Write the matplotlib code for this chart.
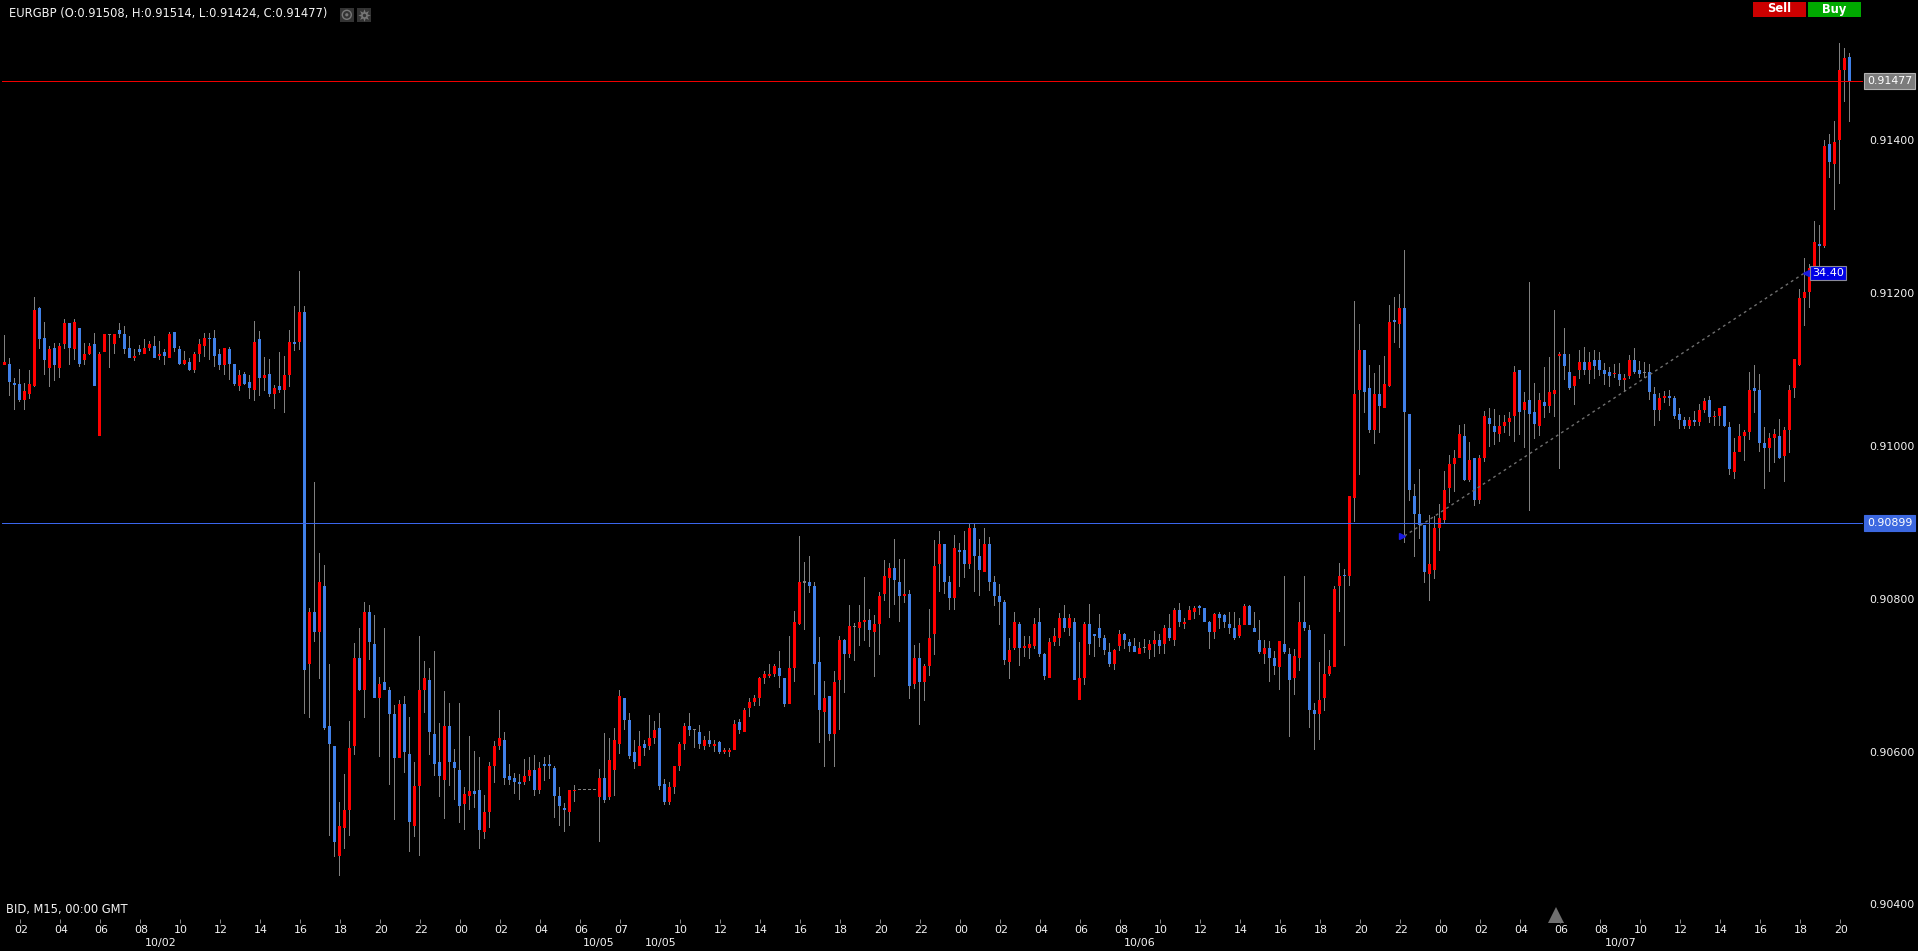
import matplotlib
matplotlib.use("Agg")
import numpy as np
import matplotlib.pyplot as plt
from matplotlib.patches import Rectangle, Circle
from matplotlib.transforms import ScaledTranslation

# M15 candles, prices in 1e-5 units -----------------------------------
body_tops = [
    91110,91107,91081,91081,91071,91081,91178,91180,91141,91126,
    91128,91131,91160,91160,91162,91154,91120,91131,91133,91120,
    91146,91146,91146,91152,91146,91128,91118,91126,91128,91133,
    91131,91120,91123,91146,91149,91126,91112,91110,91120,91133,
    91141,91141,91141,91120,91128,91126,91107,91092,91094,91084,
    91136,91139,91092,91094,91076,91078,91092,91136,91136,91175,
    91175,90783,90783,90822,90817,90633,90607,90503,90524,90605,
    90722,90722,90783,90783,90741,90689,90691,90681,90649,90662,
    90662,90597,90555,90681,90696,90694,90623,90586,90633,90633,
    90586,90576,90544,90548,90548,90550,90521,90581,90607,90618,
    90615,90568,90566,90560,90568,90576,90576,90579,90584,90584,
    90579,90542,90526,90550,90550,90550,90550,90550,90550,90566,
    90566,90589,90615,90673,90670,90641,90600,90607,90610,90618,
    90628,90631,90558,90553,90581,90610,90634,90634,90628,90626,
    90615,90615,90610,90613,90601,90601,90636,90639,90655,90665,
    90670,90696,90702,90702,90712,90709,90696,90709,90770,90822,
    90822,90822,90817,90717,90670,90673,90691,90746,90746,90764,
    90763,90770,90772,90772,90767,90804,90830,90840,90840,90822,
    90805,90806,90722,90722,90712,90749,90843,90872,90872,90822,
    90866,90864,90864,90893,90893,90856,90872,90872,90822,90804,
    90796,90733,90770,90767,90738,90741,90767,90770,90728,90743,
    90751,90775,90775,90775,90770,90696,90767,90767,90754,90762,
    90749,90730,90733,90754,90754,90743,90738,90736,90736,90741,
    90746,90746,90762,90762,90785,90785,90770,90785,90788,90791,
    90788,90770,90780,90780,90778,90767,90762,90765,90791,90791,
    90762,90746,90736,90736,90723,90744,90741,90728,90725,90770,
    90770,90759,90655,90668,90702,90712,90812,90830,90830,90934,
    91068,91125,91125,91075,91068,91068,91081,91162,91164,91180,
    91180,91041,90934,90911,90896,90845,90892,90905,90942,90976,
    90984,91015,91013,90981,90984,90984,91039,91036,91026,91026,
    91031,91036,91096,91099,91057,91060,91044,91060,91057,91070,
    91073,91120,91120,91096,91091,91109,91109,91109,91112,91112,
    91099,91096,91095,91094,91088,91112,91112,91099,91096,91096,
    91068,91063,91065,91065,91063,91042,91034,91034,91034,91047,
    91058,91060,91039,91050,91052,91024,90992,91013,91018,91073,
    91076,91073,91003,91010,91016,91013,91021,91073,91113,91193,
    91201,91232,91267,91264,91392,91395,91397,91491,91507,91508,
]
body_bottoms = [
    91105,91084,91080,91060,91060,91068,91078,91139,91112,91102,
    91105,91102,91133,91128,91126,91107,91112,91120,91078,91013,
    91123,91145,91133,91146,91126,91115,91115,91123,91120,91128,
    91115,91118,91118,91115,91128,91107,91107,91099,91099,91120,
    91131,91139,91118,91105,91105,91107,91081,91078,91081,91076,
    91073,91089,91089,91068,91068,91073,91073,91092,91133,91136,
    90707,90715,90756,90756,90631,90610,90482,90464,90500,90524,
    90607,90681,90681,90743,90670,90670,90681,90649,90592,90592,
    90600,90508,90503,90555,90681,90626,90584,90568,90563,90586,
    90579,90529,90531,90542,90544,90498,90495,90521,90581,90607,
    90566,90563,90560,90558,90560,90568,90550,90550,90581,90581,
    90542,90529,90524,90521,90548,90550,90550,90550,90550,90540,
    90537,90540,90576,90610,90641,90594,90587,90581,90605,90607,
    90618,90555,90534,90534,90553,90581,90610,90628,90628,90610,
    90607,90610,90607,90600,90600,90600,90602,90628,90626,90657,
    90665,90670,90696,90699,90702,90699,90662,90662,90709,90767,
    90821,90817,90715,90655,90652,90623,90623,90694,90728,90728,
    90763,90762,90770,90759,90757,90767,90806,90827,90825,90804,
    90804,90686,90689,90691,90691,90712,90754,90845,90822,90801,
    90801,90861,90845,90845,90856,90838,90835,90822,90804,90796,
    90720,90717,90736,90736,90736,90736,90738,90728,90699,90696,
    90743,90749,90762,90762,90694,90668,90696,90741,90751,90749,
    90733,90715,90715,90738,90746,90738,90730,90728,90735,90733,
    90741,90738,90741,90749,90746,90770,90767,90772,90783,90788,
    90770,90757,90757,90775,90770,90762,90749,90751,90765,90765,
    90757,90730,90728,90723,90712,90710,90730,90694,90696,90723,
    90762,90655,90649,90649,90670,90702,90710,90816,90829,90829,
    90932,91073,91070,91020,91020,91052,91049,91078,91162,91159,
    91044,90942,90911,90896,90835,90832,90837,90892,90903,90945,
    90976,90984,90955,90955,90929,90929,90984,91028,91018,91015,
    91026,91031,91039,91044,91047,91041,91028,91026,91052,91052,
    91068,91117,91104,91075,91078,91099,91099,91099,91104,91099,
    91094,91091,91094,91086,91086,91091,91096,91094,91095,91070,
    91047,91047,91063,91063,91039,91034,91026,91026,91031,91031,
    91047,91037,91037,91039,91026,90969,90966,90992,91013,91018,
    91071,91003,90997,90997,91010,90984,90987,91021,91076,91105,
    91193,91201,91232,91261,91261,91371,91369,91400,91491,91477,
]
highs = [
    91145,91115,91088,91101,91082,91099,91194,91182,91162,91131,
    91135,91135,91166,91161,91166,91154,91135,91135,91148,91123,
    91146,91146,91146,91160,91156,91144,91126,91132,91140,91137,
    91143,91137,91126,91149,91149,91131,91124,91115,91122,91139,
    91148,91148,91152,91127,91128,91129,91107,91099,91097,91092,
    91163,91150,91116,91114,91080,91122,91118,91152,91183,91229,
    91183,90788,90952,90860,90844,90715,90607,90534,90571,90640,
    90742,90762,90795,90792,90778,90697,90762,90685,90661,90667,
    90673,90645,90586,90751,90719,90709,90731,90637,90679,90664,
    90603,90664,90553,90620,90601,90593,90543,90586,90614,90655,
    90625,90584,90572,90570,90590,90593,90596,90586,90593,90595,
    90581,90553,90533,90550,90556,90550,90550,90550,90550,90577,
    90624,90618,90631,90681,90670,90650,90615,90627,90615,90648,
    90640,90650,90564,90560,90581,90612,90638,90651,90630,90635,
    90621,90627,90615,90614,90605,90605,90641,90643,90657,90670,
    90674,90698,90706,90715,90715,90732,90696,90751,90784,90882,
    90848,90856,90822,90750,90692,90673,90706,90751,90747,90792,
    90768,90792,90828,90787,90779,90809,90851,90847,90878,90852,
    90852,90811,90739,90742,90715,90787,90877,90889,90872,90830,
    90883,90873,90889,90899,90899,90878,90893,90881,90830,90819,
    90798,90749,90783,90770,90751,90751,90775,90788,90729,90749,
    90762,90781,90792,90780,90775,90743,90770,90793,90754,90780,
    90753,90742,90734,90759,90755,90747,90749,90743,90747,90746,
    90758,90754,90766,90780,90788,90794,90775,90791,90791,90792,
    90788,90771,90781,90783,90780,90782,90783,90775,90793,90792,
    90782,90772,90746,90745,90732,90745,90829,90736,90734,90796,
    90830,90766,90663,90717,90754,90733,90816,90847,90839,90934,
    91189,91159,91125,91105,91095,91105,91117,91184,91194,91198,
    91256,91041,90950,90969,90896,90909,90908,90924,90967,90988,
    90994,91027,91028,91005,90984,90988,91045,91049,91048,91040,
    91040,91044,91104,91099,91070,91214,91082,91069,91103,91116,
    91177,91122,91154,91120,91091,91125,91129,91122,91125,91122,
    91108,91103,91107,91108,91094,91119,91128,91111,91109,91107,
    91077,91069,91072,91073,91065,91050,91037,91037,91045,91054,
    91062,91065,91045,91050,91052,91031,91010,91029,91021,91096,
    91105,91094,91024,91017,91022,91035,91024,91080,91113,91205,
    91246,91238,91294,91289,91400,91408,91425,91527,91520,91514,
]
lows = [
    91105,91065,91047,91057,91047,91061,91077,91127,91093,91077,
    91085,91088,91127,91105,91112,91103,91105,91119,91078,91013,
    91123,91102,91120,91141,91120,91115,91111,91119,91120,91124,
    91115,91112,91105,91115,91122,91106,91105,91098,91095,91109,
    91116,91112,91103,91099,91093,91086,91078,91072,91080,91061,
    91059,91065,91072,91064,91048,91069,91043,91077,91124,91125,
    90649,90644,90743,90695,90628,90489,90462,90437,90473,90489,
    90596,90679,90644,90720,90670,90593,90681,90556,90510,90592,
    90572,90468,90488,90464,90651,90596,90568,90541,90512,90555,
    90536,90507,90498,90523,90526,90473,90486,90500,90559,90602,
    90556,90556,90544,90537,90556,90561,90542,90544,90561,90564,
    90513,90503,90495,90503,90534,90550,90550,90550,90550,90482,
    90533,90537,90542,90597,90628,90590,90577,90581,90594,90602,
    90610,90550,90530,90530,90545,90574,90602,90621,90605,90604,
    90602,90606,90600,90597,90597,90593,90602,90623,90626,90645,
    90660,90660,90689,90696,90698,90683,90658,90662,90691,90766,
    90759,90808,90674,90611,90580,90614,90580,90628,90677,90723,
    90719,90738,90745,90737,90698,90726,90797,90775,90792,90770,
    90794,90669,90682,90635,90666,90699,90726,90809,90806,90785,
    90785,90815,90827,90839,90809,90804,90835,90810,90791,90766,
    90713,90695,90733,90712,90724,90721,90734,90724,90694,90696,
    90738,90738,90757,90751,90694,90668,90687,90726,90724,90737,
    90726,90711,90707,90732,90734,90730,90730,90728,90729,90721,
    90724,90728,90728,90745,90738,90763,90760,90772,90774,90779,
    90770,90734,90747,90760,90761,90754,90746,90749,90765,90765,
    90757,90727,90715,90691,90700,90681,90727,90619,90674,90706,
    90758,90631,90602,90615,90653,90699,90710,90782,90738,90816,
    90900,90962,91043,91017,91002,91017,91049,91077,91135,91128,
    90873,90928,90854,90878,90820,90797,90826,90862,90898,90925,
    90939,90984,90954,90952,90921,90924,90979,90999,91001,91005,
    91017,91013,91005,91014,90997,90915,91009,91013,91036,91043,
    91037,90969,91086,91073,91053,91087,91092,91081,91087,91091,
    91079,91077,91088,91078,91070,91087,91094,91088,91088,91060,
    91026,91033,91056,91052,91035,91022,91022,91022,91026,91026,
    91043,91030,91026,91026,91025,90962,90957,90992,90980,91007,
    91043,90992,90944,90965,90978,90983,90953,90991,91062,91104,
    91157,91180,91225,91235,91259,91350,91308,91342,91450,91424,
]
# r = up, b = down, g = doji, f = flat candle over the weekend
candle_kinds = (
    "rbbbrrrbbr" "brrbrbrrbr" "rgrbbbrbrr" "brbrbbrbrr" "rbbbrbbrbb"
    "rbrbrbrrbr" "brbrbbbrrr" "rbrbbrbbbr" "bbrrrbbbrb" "bbrrbbrrrr"
    "bbbbrrbrbb" "bbbrrffffr" "brrrbbbrbr" "rbbrrrrbgb" "rbrbrrrbrr"
    "rrrrrbbrrr" "gbbbrbrrbr" "grrbrrrrbb" "rbrbrrrrbb" "rbbrbbrbbb"
    "brrbrrrbbr" "rrbrbrrbbb" "bbrrbbbrgr" "rbrbrbrrrb" "bbrbbbbrrb"
    "bbrbbrbbrr" "bbbrrrrrbr" "rrbbrbrrbr" "bbbbbrrrrr" "rrbrbrrbbr"
    "rrrbrbbrbr" "rrbbrrbrbb" "bbrbrrbbgb" "brrbbbbrbr" "rbrrbbrrrr"
    "bbbrrbrrrr" "rrrbrbrrrb"
)

hour_labels = ["02","04","06","08","10","12","14","16","18","20","22","00","02","04","06","07",
               "10","12","14","16","18","20","22","00","02","04","06","08","10","12","14","16","18",
               "20","22","00","02","04","06","08","10","12","14","16","18","20"]
hour_slots = [3,11,19,27,35,43,51,59,67,75,83,91,99,107,115,123,
              135,143,151,159,167,175,183,191,199,207,215,223,231,239,247,255,263,
              271,279,287,295,303,311,319,327,335,343,351,359,367]
price_ticks = [0.904, 0.906, 0.908, 0.910, 0.912, 0.914]
last_price = 0.91477
line_price = 0.90899
ohlc_title = "EURGBP (O:0.91508, H:0.91514, L:0.91424, C:0.91477)"
# measure tool: from slot 280 to slot 360
measure_slots = [280, 360]
measure_prices = [0.90882, 0.91226]
measure_text = "34.40"

BLUE = "#4080e8"
RED = "#ff0000"
GREY = "#808080"
TEXT = "#f4f4f4"

W, H = 1918, 951
plt.rcParams['font.family'] = 'DejaVu Sans'
fig = plt.figure(figsize=(W / 100, H / 100), dpi=100, facecolor="black")

# price pane, fitted so one candle is 5 px and 0.00001 is 0.7647 px
left, right, bottom = 2, 1863, 919
ax = fig.add_axes([left / W, 1 - bottom / H, (right - left) / W, bottom / H], facecolor="black")
ax.set_xlim(-0.5, 371.7)
ax.set_ylim(0.90381, 0.91583)
for s in ax.spines.values():
    s.set_visible(False)

tops = np.array(body_tops) / 1e5
bots = np.array(body_bottoms) / 1e5
hi = np.array(highs) / 1e5
lo = np.array(lows) / 1e5
kinds = np.array(list(candle_kinds))
x = np.arange(len(tops))

# wicks (1 px) then bodies (3 px) -------------------------------------
solid = kinds != "f"
ax.bar(x[solid], (hi - lo)[solid], bottom=lo[solid], width=0.2, color=GREY, linewidth=0, zorder=2)
min_body = 0.000015  # thin bodies still show as a tick
for kind, col in (("r", RED), ("b", BLUE)):
    m = kinds == kind
    ax.bar(x[m], np.maximum((tops - bots)[m], min_body), bottom=bots[m], width=0.6, color=col, linewidth=0, zorder=3)
flat = (kinds == "g") | (kinds == "f")
ax.bar(x[flat], min_body, bottom=bots[flat], width=0.6, color=GREY, linewidth=0, zorder=3)

# the two price lines
ax.axhline(last_price, color="#f00000", linewidth=0.7, zorder=4, antialiased=False)
ax.axhline(line_price, color="#3a66ec", linewidth=0.7, zorder=4, antialiased=False)

# measure line
ax.plot(measure_slots, measure_prices, color="#707070", linewidth=1, linestyle=(0, (2, 2.5)), zorder=5)
ax.plot(measure_slots[0] - 0.6, measure_prices[0], marker=">", color="#1a1ae0", markersize=5, zorder=6)
ax.plot(measure_slots[1] + 0.3, measure_prices[1], marker="<", color="#1a1ae0", markersize=5, zorder=6)
ax.text(measure_slots[1] + 1.5, measure_prices[1], measure_text, color="white", fontsize=8, va="center", ha="left", zorder=7,
        bbox=dict(boxstyle="square,pad=0.15", fc="#0000e6", ec="#8a8a9a", lw=0.8))

# axis ticks
ax.set_xticks(hour_slots)
ax.set_xticklabels(hour_labels)
ax.yaxis.tick_right()
ax.set_yticks(price_ticks)
ax.set_yticklabels(["%.5f" % p for p in price_ticks])
ax.tick_params(axis="x", length=3, width=0.7, color=GREY, labelcolor=TEXT, labelsize=7.9, pad=1.5)
ax.tick_params(axis="y", length=0, labelcolor=TEXT, labelsize=7.9, pad=4.2)
# labels sit about one pixel right of their ticks
nudge = ScaledTranslation(1.3 / 100, 0, fig.dpi_scale_trans)
for lbl in ax.get_xticklabels():
    lbl.set_transform(lbl.get_transform() + nudge)

# price flags on the right
tr = ax.get_yaxis_transform()
ax.text(1 + 4 / (right - left), last_price, "%.5f" % last_price, transform=tr, color="white", fontsize=7.9, va="center",
        bbox=dict(boxstyle="square,pad=0.28", fc="#7c7c7c", ec="#b0b0b0", lw=0.8), clip_on=False, zorder=8)
ax.text(1 + 4 / (right - left), line_price, "%.5f" % line_price, transform=tr, color="white", fontsize=7.9, va="center",
        bbox=dict(boxstyle="square,pad=0.28", fc="#3c68e0", ec="#3c68e0", lw=0.8), clip_on=False, zorder=8)

# overlay in pixels for the platform's own controls and captions
ui = fig.add_axes([0, 0, 1, 1], facecolor="none")
ui.set_xlim(0, W)
ui.set_ylim(H, 0)
ui.axis("off")

ui.text(9, 14, ohlc_title, color=TEXT, fontsize=8.3, va="center")
ui.text(6, 910, "BID, M15, 00:00 GMT", color=TEXT, fontsize=8.3, va="center")
for label, px in (("10/02", 160.7), ("10/05", 599), ("10/05", 660.6), ("10/06", 1140), ("10/07", 1620.7)):
    ui.text(px, 943, label, color=TEXT, fontsize=7.9, va="center", ha="center")

# eye and gear buttons
ui.add_patch(Rectangle((339.5, 7.5), 14.5, 14.5, fc="#333333", ec="none"))
ui.add_patch(Rectangle((356.5, 7.5), 14.5, 14.5, fc="#333333", ec="none"))
ui.add_patch(Circle((346.8, 14.8), 4.5, fc="none", ec="#777777", lw=1))
ui.add_patch(Circle((346.8, 14.8), 1.6, fc="#777777", ec="none"))
ui.plot(363.7, 14.8, marker=(8, 1, 0), color="#777777", markersize=9, markeredgewidth=0)
ui.plot(363.7, 14.8, marker="o", color="#333333", markersize=2.5, markeredgewidth=0)

# sell / buy buttons
ui.add_patch(Rectangle((1753, 2), 53, 15, fc="#cc0000", ec="none"))
ui.add_patch(Rectangle((1808, 2), 53, 15, fc="#00a800", ec="none"))
ui.text(1779.5, 9, "Sell", color="white", fontsize=8.3, fontweight="bold", ha="center", va="center")
ui.text(1834.5, 9, "Buy", color="white", fontsize=8.3, fontweight="bold", ha="center", va="center")

# scroll marker under the chart
ui.plot(1556, 915, marker="^", color="#707070", markersize=11, markeredgewidth=0)

plt.savefig("out.png", dpi=100, facecolor="black")
